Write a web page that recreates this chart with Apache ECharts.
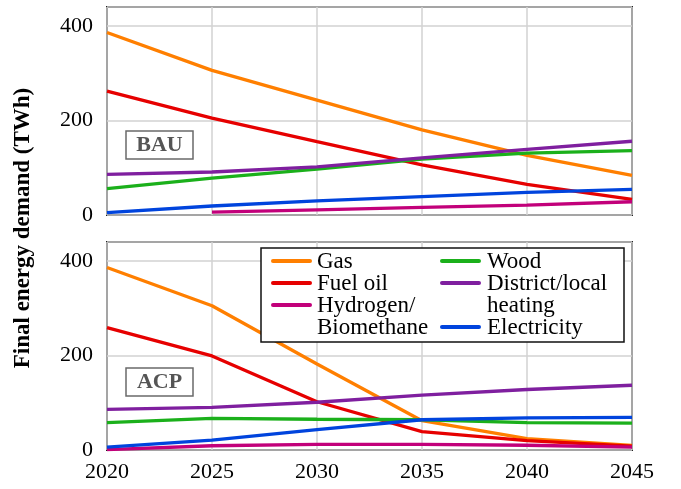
<!DOCTYPE html>
<html>
<head>
<meta charset="utf-8">
<script src="https://cdn.jsdelivr.net/npm/echarts@6/dist/echarts.min.js"></script>
<style>
  html, body { margin: 0; padding: 0; background: #fff; }
  #chart { width: 681px; height: 489px; }
</style>
</head>
<body>
<div id="chart"></div>
<script>
// Years on the shared x axis
const years = [2020, 2025, 2030, 2035, 2040, 2045];
const yTicks = [0, 200, 400];

// Energy carriers (legend order) and their colours
const carriers = ['Gas', 'Fuel oil', 'Hydrogen/\nBiomethane', 'Wood', 'District/local\nheating', 'Electricity'];
const carrierColors = ['#ff7f00', '#e60000', '#c2007a', '#1bb01b', '#7f1f9f', '#0044dd'];

// Final energy demand in TWh, business-as-usual scenario
const bauGas         = [386, 306, 243, 180, 126, 84];
const bauFuelOil     = [262, 205, 155, 106, 65, 33];
const bauHydrogen    = [null, 6, 11, 16, 21, 28];
const bauWood        = [56, 78, 97, 118, 131, 136];
const bauDistrict    = [86, 91, 102, 121, 139, 156];
const bauElectricity = [5, 19, 30, 39, 48, 54];

// Final energy demand in TWh, ACP scenario
const acpGas         = [386, 305, 182, 62, 24, 10];
const acpFuelOil     = [259, 199, 102, 39, 20, 8];
const acpHydrogen    = [1, 9, 12, 12, 10, 6];
const acpWood        = [58, 67, 65, 64, 58, 57];
const acpDistrict    = [86, 90, 101, 116, 128, 137];
const acpElectricity = [6, 21, 43, 64, 68, 69];

const scenarios = [
  { label: 'BAU', values: [bauGas, bauFuelOil, bauHydrogen, bauWood, bauDistrict, bauElectricity] },
  { label: 'ACP', values: [acpGas, acpFuelOil, acpHydrogen, acpWood, acpDistrict, acpElectricity] }
];

const FONT = '"Liberation Serif", serif';

const chart = echarts.init(document.getElementById('chart'), null, { renderer: 'canvas' });

const grids = [
  { left: 107, top: 7, width: 525, height: 208 },
  { left: 107, top: 242, width: 525, height: 208 }
];

const series = [];
scenarios.forEach((sc, gi) => {
  sc.values.forEach((vals, ci) => {
    series.push({
      type: 'line',
      name: carriers[ci],
      xAxisIndex: gi,
      yAxisIndex: gi,
      data: years.map((yr, k) => [yr, vals[k] == null ? '-' : vals[k]]),
      showSymbol: false,
      symbol: 'none',
      smooth: false,
      silent: true,
      animation: false,
      lineStyle: { color: carrierColors[ci], width: 3.3 },
      itemStyle: { color: carrierColors[ci] }
    });
  });
});

const graphic = [];

// y-axis title shared by both panels
graphic.push({
  type: 'text',
  x: 23, y: 228,
  rotation: Math.PI / 2,
  z: 100,
  style: {
    text: 'Final energy demand (TWh)',
    font: 'bold 23px "Liberation Serif"',
    fill: '#000',
    textAlign: 'center',
    textVerticalAlign: 'middle'
  }
});

// Scenario tags
const tagBoxes = [{ x: 126, y: 131 }, { x: 126, y: 368 }];
scenarios.forEach((sc, gi) => {
  const b = tagBoxes[gi];
  graphic.push({
    type: 'rect', z: 100,
    shape: { x: b.x, y: b.y, width: 67, height: 28 },
    style: { fill: '#fff', stroke: '#6a6a6a', lineWidth: 1.5 }
  });
  graphic.push({
    type: 'text', z: 101,
    x: b.x + 33.5, y: b.y + 14.5,
    style: {
      text: sc.label, font: 'bold 22px "Liberation Serif"', fill: '#555',
      textAlign: 'center', textVerticalAlign: 'middle'
    }
  });
});

// Legend box (two columns)
const lg = { x: 261, y: 248, w: 363, h: 94, firstRow: 261, step: 22 };
graphic.push({
  type: 'rect', z: 100,
  shape: { x: lg.x, y: lg.y, width: lg.w, height: lg.h },
  style: { fill: '#fff', stroke: '#111', lineWidth: 1.5 }
});
const columns = [
  { iconX: 273, textX: 317, items: [0, 1, 2] },
  { iconX: 442, textX: 487, items: [3, 4, 5] }
];
columns.forEach(col => {
  let line = 0;
  col.items.forEach(ci => {
    const cy = lg.firstRow + line * lg.step;
    graphic.push({
      type: 'line', z: 101,
      shape: { x1: col.iconX, y1: cy, x2: col.iconX + 37, y2: cy },
      style: { stroke: carrierColors[ci], lineWidth: 4, lineCap: 'round' }
    });
    graphic.push({
      type: 'text', z: 101,
      x: col.textX, y: cy - lg.step / 2 + 1,
      style: {
        text: carriers[ci], font: '23px "Liberation Serif"', fill: '#000',
        lineHeight: lg.step, textAlign: 'left', textVerticalAlign: 'top'
      }
    });
    line += carriers[ci].split('\n').length;
  });
});

// Tick label style, applied through rich text
const tickRich = { t: { fontFamily: FONT, fontSize: 22, color: '#000' } };

const option = {
  backgroundColor: '#fff',
  animation: false,
  textStyle: { fontFamily: FONT },
  grid: grids.map(g => Object.assign({
    show: true, borderColor: '#222', borderWidth: 2, backgroundColor: 'transparent', containLabel: false
  }, g)),
  xAxis: grids.map((g, gi) => ({
    type: 'value',
    gridIndex: gi,
    min: years[0], max: years[years.length - 1], interval: 5,
    axisLine: { show: false },
    axisTick: { show: false },
    axisLabel: {
      show: gi === 1, fontFamily: FONT, fontSize: 22, color: '#000', margin: 11,
      formatter: v => '{t|' + v + '}', rich: tickRich,
      showMinLabel: true, showMaxLabel: true, hideOverlap: false
    },
    splitLine: { show: true, lineStyle: { color: '#d2d2d2', width: 1.5 } }
  })),
  yAxis: grids.map((g, gi) => ({
    type: 'value',
    gridIndex: gi,
    min: 0, max: 440, interval: 200,
    axisLine: { show: false },
    axisTick: { show: false },
    axisLabel: {
      fontFamily: FONT, fontSize: 22, color: '#000', margin: 14,
      formatter: v => (yTicks.indexOf(v) >= 0 ? '{t|' + v + '}' : ''), rich: tickRich,
      showMaxLabel: false
    },
    splitLine: { show: true, lineStyle: { color: '#d2d2d2', width: 1.5 } }
  })),
  series: series,
  graphic: graphic
};

chart.setOption(option);
</script>
</body>
</html>
